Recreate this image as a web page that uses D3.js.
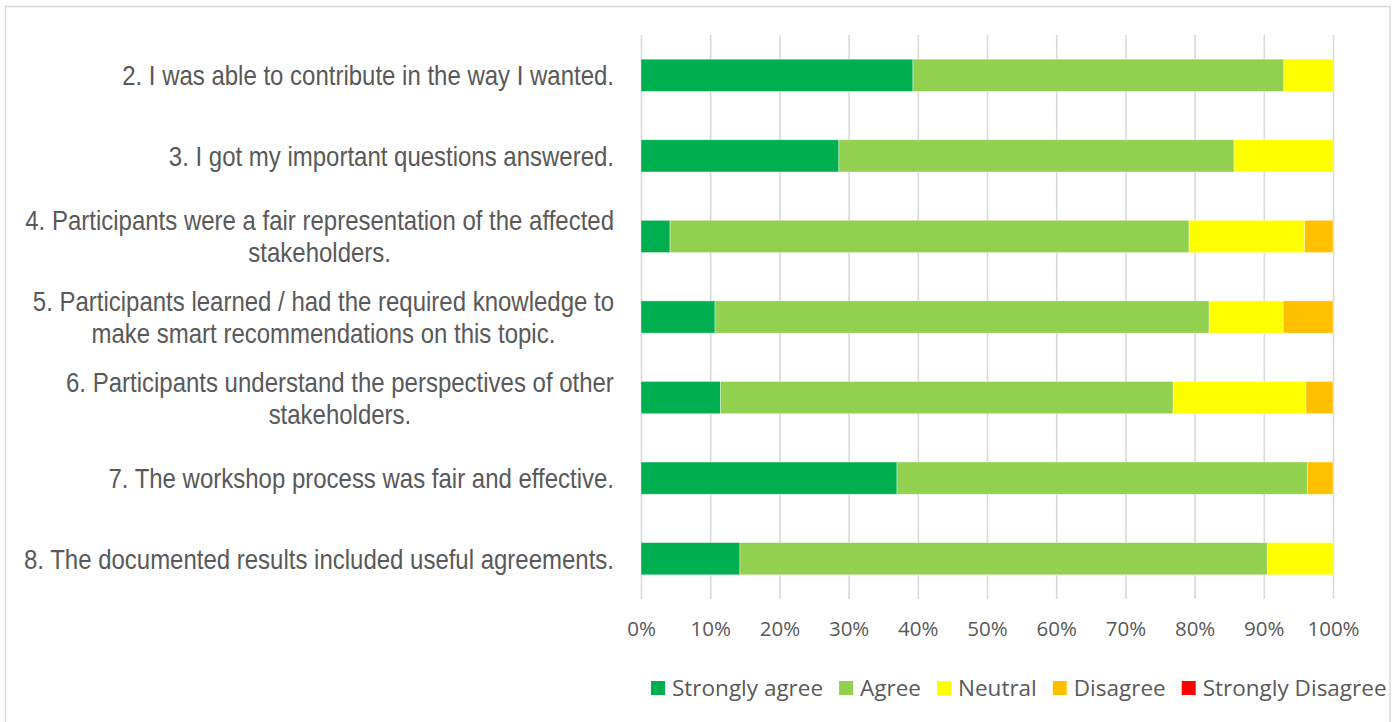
<!DOCTYPE html>
<html>
<head>
<meta charset="utf-8">
<script src="https://cdn.jsdelivr.net/npm/d3@7"></script>
<style>
  html,body{margin:0;padding:0;background:#fff;}
  svg{display:block;}
</style>
</head>
<body>
<div id="chart"></div>
<script>
// Workshop evaluation — 100% stacked bars
const questions = [
  '2. I was able to contribute in the way I wanted.',
  '3. I got my important questions answered.',
  '4. Participants were a fair representation of the affected|stakeholders.',
  '5. Participants learned / had the required knowledge to|make smart recommendations on this topic.',
  '6. Participants understand the perspectives of other|stakeholders.',
  '7. The workshop process was fair and effective.',
  '8. The documented results included useful agreements.'
];
const levels = ['Strongly agree','Agree','Neutral','Disagree','Strongly Disagree'];
const colors = ['#00B050','#92D050','#FFFF00','#FFC000','#FF0000'];

// share of answers (%) per question, in level order
const stronglyAgree    = [39.3, 28.6,  4.2, 10.7, 11.5, 37.0, 14.3];
const agree            = [53.6, 57.1, 75.0, 71.4, 65.4, 59.3, 76.2];
const neutral          = [ 7.1, 14.3, 16.7, 10.7, 19.2,  0.0,  9.5];
const disagree         = [ 0.0,  0.0,  4.1,  7.2,  3.9,  3.7,  0.0];
const stronglyDisagree = [ 0.0,  0.0,  0.0,  0.0,  0.0,  0.0,  0.0];
const xTicks = [0,10,20,30,40,50,60,70,80,90,100];

(function(){
  const W = 1399, H = 722;
  const m = {top:35, left:641, right:66, bottom:123};
  const w = W-m.left-m.right, h = H-m.top-m.bottom;
  const txt = '#595959';

  const svg = d3.select('#chart').append('svg').attr('width',W).attr('height',H);
  svg.append('rect').attr('x',5.5).attr('y',6.5).attr('width',1384.5).attr('height',H+10)
    .attr('fill','#fff').attr('stroke','#d9d9d9').attr('stroke-width',1.5);

  const g = svg.append('g').attr('transform',`translate(${m.left},${m.top})`);

  const x = d3.scaleLinear().domain([0,100]).range([0,w]);
  const y = d3.scaleBand().domain(questions).range([0,h]).paddingInner(0.6).paddingOuter(0.3);

  // gridlines
  g.append('g').call(d3.axisBottom(x).tickValues(xTicks).tickSize(h).tickFormat(''))
    .call(a=>a.select('.domain').remove())
    .call(a=>a.selectAll('line').attr('stroke','#d9d9d9').attr('stroke-width',1.6));

  // tick labels
  g.append('g').attr('transform',`translate(0,${h})`)
    .call(d3.axisBottom(x).tickValues(xTicks).tickSize(0).tickPadding(22).tickFormat(d=>d+'%'))
    .call(a=>a.select('.domain').remove())
    .call(a=>a.selectAll('text').style('font-family','"Open Sans",sans-serif').style('font-size','20.5px').attr('fill',txt));

  // stacked data
  const series = [stronglyAgree, agree, neutral, disagree, stronglyDisagree];
  const rows = questions.map((q,i)=>{
    const r = {q};
    levels.forEach((l,li)=>{ r[l] = series[li][i]; });
    return r;
  });
  const stack = d3.stack().keys(levels)(rows);

  stack.forEach((s,si)=>{
    g.append('g').attr('fill',colors[si]).selectAll('rect').data(s).join('rect')
      .attr('x',d=>x(d[0])).attr('y',d=>y(d.data.q))
      .attr('width',d=>Math.max(0,x(d[1])-x(d[0]))).attr('height',y.bandwidth())
      .attr('stroke','#fff').attr('stroke-opacity',0.5).attr('stroke-width',0.75);
  });

  // category labels: condensed look via horizontal squeeze (no narrow font installed)
  const lab = svg.append('g');
  const labFont = '"Liberation Sans",Arial,sans-serif';
  const probe = lab.append('text').style('font-family',labFont).style('font-size','28px').text(questions[0]);
  const sx = 492 / probe.node().getComputedTextLength();
  probe.remove();
  questions.forEach(q=>{
    const lines = q.split('|');
    const cy = m.top + y(q) + y.bandwidth()/2;
    const lh = 32;
    const gg = lab.append('g').attr('transform',`translate(614,0) scale(${sx},1)`);
    const t = gg.append('text')
      .style('font-family',labFont).style('font-size','28px')
      .attr('fill',txt).attr('text-anchor','middle');
    lines.forEach((ln,i)=>{
      t.append('tspan').attr('x',0).attr('y',cy + (i-(lines.length-1)/2)*lh).attr('dy','0.36em').text(ln);
    });
    const bw = t.node().getBBox().width;
    t.selectAll('tspan').attr('x', -bw/2);
  });

  // legend
  const leg = svg.append('g').attr('transform','translate(0,688)');
  let lx = 651;
  levels.forEach((l,i)=>{
    leg.append('rect').attr('x',lx).attr('y',-7).attr('width',14).attr('height',14).attr('fill',colors[i]);
    const t = leg.append('text').attr('x',lx+21).attr('y',0).attr('dy','0.36em')
      .style('font-family','"Open Sans",sans-serif').style('font-size','22.5px').attr('fill',txt).text(l);
    lx += 21 + t.node().getComputedTextLength() + 16;
  });
})();
</script>
</body>
</html>
